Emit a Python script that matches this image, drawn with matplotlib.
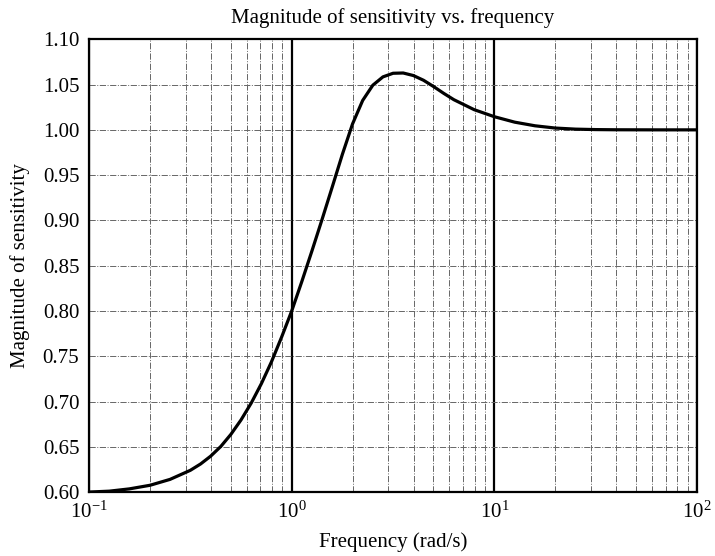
import matplotlib.pyplot as plt
import matplotlib.ticker as mticker

# values (rad/s, |S|)
freq = [0.1, 0.126, 0.158, 0.2, 0.251, 0.316, 0.355, 0.398, 0.447, 0.501,
        0.562, 0.631, 0.708, 0.794, 0.891, 1.0, 1.122, 1.259, 1.413, 1.585,
        1.778, 1.995, 2.239, 2.512, 2.818, 3.162, 3.548, 3.981, 4.467, 5.012,
        5.623, 6.31, 7.943, 10.0, 12.59, 15.85, 19.95, 25.12, 31.62, 39.81,
        63.1, 100.0]
mag = [0.6000, 0.6010, 0.6035, 0.6075, 0.6140, 0.6240, 0.6310, 0.6396, 0.6504,
       0.6637, 0.6796, 0.6982, 0.7196, 0.7437, 0.7710, 0.8000, 0.8326, 0.8665,
       0.9014, 0.9370, 0.9730, 1.0065, 1.0325, 1.0493, 1.0585, 1.0625, 1.0628,
       1.0600, 1.0548, 1.0478, 1.0403, 1.0333, 1.0223, 1.0145, 1.0085, 1.0045,
       1.0020, 1.0008, 1.0003, 1.0001, 1.0000, 1.0000]
yticks = [0.60, 0.65, 0.70, 0.75, 0.80, 0.85, 0.90, 0.95, 1.00, 1.05, 1.10]

plt.rcParams['font.family'] = ['Liberation Serif', 'DejaVu Serif']
plt.rcParams['mathtext.fontset'] = 'custom'
plt.rcParams['mathtext.rm'] = 'Liberation Serif'
plt.rcParams['mathtext.it'] = 'Liberation Serif:italic'

fig = plt.figure(figsize=(7.15, 5.56), dpi=100)
ax = fig.add_axes([0.1245, 0.115, 0.8505, 0.8143])

ax.plot(freq, mag, color='black', linewidth=2.3, zorder=5)

ax.set_xscale('log')
ax.set_xlim(0.1, 100)
ax.set_ylim(0.6, 1.1)
ax.set_yticks(yticks)
ax.yaxis.set_major_formatter(mticker.FormatStrFormatter('%.2f'))
ax.xaxis.set_major_locator(mticker.LogLocator(base=10))
ax.xaxis.set_minor_locator(mticker.LogLocator(base=10, subs=range(2, 10)))
ax.xaxis.set_minor_formatter(mticker.NullFormatter())

# grid: decade lines solid, the rest dash-dot
ax.grid(True, which='major', axis='x', color='black', linestyle='-', linewidth=1.6)
ax.grid(True, which='minor', axis='x', color='0.4', linestyle='-.', linewidth=0.7)
ax.grid(True, which='major', axis='y', color='0.4', linestyle='-.', linewidth=0.7)

ax.tick_params(axis='both', which='both', direction='in', length=0, labelsize=15, pad=7)
for s in ax.spines.values():
    s.set_linewidth(1.6)

ax.set_title('Magnitude of sensitivity vs. frequency', fontsize=15, pad=12)
ax.set_xlabel('Frequency (rad/s)', fontsize=15, labelpad=7)
ax.set_ylabel('Magnitude of sensitivity', fontsize=15, labelpad=9)

fig.savefig('out.png', dpi=100)
